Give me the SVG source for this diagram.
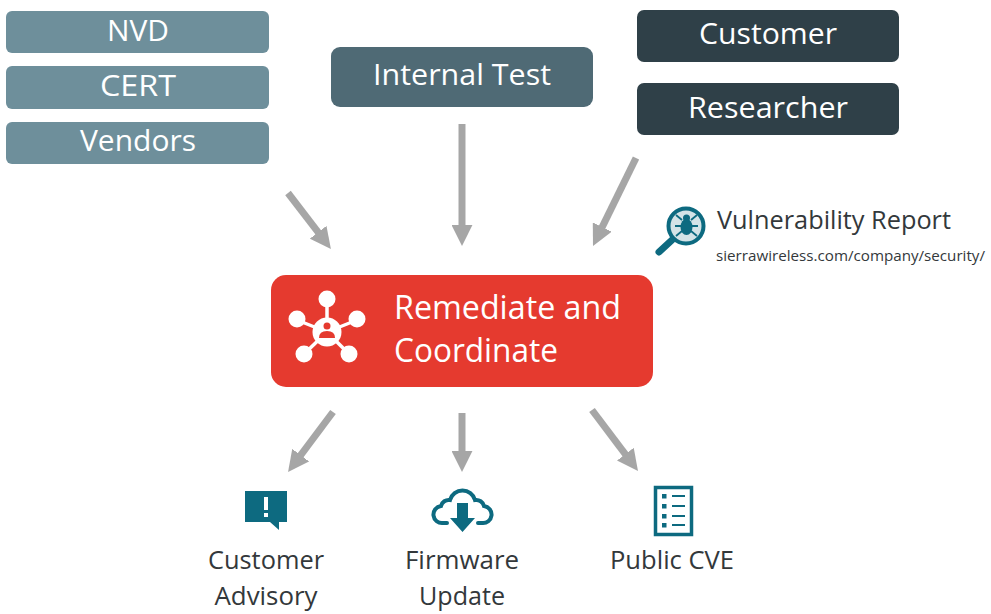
<svg xmlns="http://www.w3.org/2000/svg" width="991" height="614" viewBox="0 0 991 614">
<defs>
<marker id="ah" viewBox="0 0 10 10" refX="1" refY="5" markerWidth="3" markerHeight="3" orient="auto" markerUnits="strokeWidth"><path d="M0 0L10 5L0 10Z" fill="#a6a6a6"/></marker>
</defs>
<style>
text{font-family:"Open Sans","Noto Sans","Liberation Sans",sans-serif}
.w{fill:#fff;font-size:30px;text-anchor:middle}
.k{fill:#33383b;font-size:26px;text-anchor:middle}
.c{stroke:#a6a6a6;stroke-width:7;fill:none;marker-end:url(#ah)}
.t{fill:#0d6a80}
</style>
<rect width="991" height="614" fill="#fff"/>
<g id="connectors">
<line class="c" x1="288" y1="193" x2="319.400" y2="233.900"/>
<line class="c" x1="462" y1="124" x2="462" y2="227"/>
<line class="c" x1="636" y1="158" x2="601.300" y2="228.900"/>
<line class="c" x1="333" y1="412" x2="299.400" y2="456.800"/>
<line class="c" x1="462" y1="413" x2="462" y2="453"/>
<line class="c" x1="592" y1="410" x2="626.600" y2="455.800"/>
</g>
<g id="nvd"><rect x="6" y="11" width="263" height="42" rx="6" fill="#6e8f9b"/><text class="w" x="138" y="41" textLength="62" lengthAdjust="spacingAndGlyphs">NVD</text></g>
<g id="cert"><rect x="6" y="66" width="263" height="43" rx="6" fill="#6e8f9b"/><text class="w" x="138" y="96" textLength="76" lengthAdjust="spacingAndGlyphs">CERT</text></g>
<g id="vendors"><rect x="6" y="122" width="263" height="42" rx="6" fill="#6e8f9b"/><text class="w" x="138" y="151" textLength="116" lengthAdjust="spacingAndGlyphs">Vendors</text></g>
<g id="internal-test"><rect x="331" y="47" width="262" height="60" rx="9" fill="#4f6a75"/><text class="w" x="462" y="85" textLength="178" lengthAdjust="spacingAndGlyphs">Internal Test</text></g>
<g id="customer"><rect x="637" y="10" width="262" height="52" rx="7" fill="#2f4048"/><text class="w" x="768" y="44" textLength="138" lengthAdjust="spacingAndGlyphs">Customer</text></g>
<g id="researcher"><rect x="637" y="83" width="262" height="52" rx="7" fill="#2f4048"/><text class="w" x="768" y="118" textLength="160" lengthAdjust="spacingAndGlyphs">Researcher</text></g>
<g id="vulnerability-report">
<circle cx="686" cy="226" r="17.500" fill="#d3e3e7" stroke="#0d6a80" stroke-width="4"/>
<line x1="672" y1="240" x2="659" y2="252" stroke="#0d6a80" stroke-width="7" stroke-linecap="round"/>
<ellipse cx="686.500" cy="227" rx="6" ry="8" fill="#0d6a80"/>
<circle cx="686.500" cy="218" r="3.500" fill="#0d6a80"/>
<path d="M676 215l6 5M697 215l-6 5M675 226h23M676 236l6-5M697 236l-6-5" stroke="#0d6a80" stroke-width="1.800" fill="none"/>
<text x="717" y="229" fill="#33383b" font-size="26" textLength="234" lengthAdjust="spacingAndGlyphs">Vulnerability Report</text>
<text x="716" y="261" fill="#33383b" font-size="15" textLength="269" lengthAdjust="spacingAndGlyphs">sierrawireless.com/company/security/</text>
</g>
<g id="remediate">
<rect x="271" y="275" width="382" height="112" rx="15" fill="#e53a2f"/>
<g stroke="#fff" stroke-width="3.500"><line x1="327" y1="332" x2="327" y2="300"/><line x1="327" y1="332" x2="297" y2="320"/><line x1="327" y1="332" x2="357" y2="320"/><line x1="327" y1="332" x2="304" y2="354"/><line x1="327" y1="332" x2="349" y2="354"/></g>
<g fill="#fff"><circle cx="327" cy="299" r="8.500"/><circle cx="297" cy="319" r="8.500"/><circle cx="357" cy="319" r="8.500"/><circle cx="304" cy="354" r="8.500"/><circle cx="349" cy="354" r="8.500"/><circle cx="327" cy="332" r="14.500"/></g>
<circle cx="327" cy="326" r="3.500" fill="#e53a2f"/><path d="M319 338q0-7 8-7t8 7Z" fill="#e53a2f"/>
<text x="394" y="319" fill="#fff" font-size="33" textLength="227" lengthAdjust="spacingAndGlyphs">Remediate and</text>
<text x="394" y="362" fill="#fff" font-size="33" textLength="164" lengthAdjust="spacingAndGlyphs">Coordinate</text>
</g>
<g id="customer-advisory">
<path class="t" d="M245 491h42v31h-8v8l-9-8h-25Z"/>
<rect x="264" y="497" width="4" height="13" fill="#fff"/><rect x="264" y="513" width="4" height="4" fill="#fff"/>
<text class="k" x="266" y="569" textLength="116" lengthAdjust="spacingAndGlyphs">Customer</text>
<text class="k" x="266" y="605" textLength="103" lengthAdjust="spacingAndGlyphs">Advisory</text>
</g>
<g id="firmware-update">
<path d="M447 523H443A8.500 8.500 0 0 1 441 506A8 8 0 0 1 450 500A13 13 0 0 1 475 500A8 8 0 0 1 484 506A8.500 8.500 0 0 1 482 523H478" fill="none" stroke="#0d6a80" stroke-width="4" stroke-linecap="round"/>
<path class="t" d="M457 503h11v15h7l-12.500 14-12.500-14h7Z"/>
<text class="k" x="462" y="569" textLength="114" lengthAdjust="spacingAndGlyphs">Firmware</text>
<text class="k" x="462" y="605" textLength="86" lengthAdjust="spacingAndGlyphs">Update</text>
</g>
<g id="public-cve">
<rect x="655.500" y="487.500" width="36" height="47" fill="none" stroke="#0d6a80" stroke-width="3.500"/>
<path d="M672 496h13M672 506h13M672 516h13M672 525h13" stroke="#0d6a80" stroke-width="2"/>
<path class="t" d="M662 494h4.500v4.500h-4.500ZM662 504h4.500v4.500h-4.500ZM662 514h4.500v4.500h-4.500ZM662 523h4.500v4.500h-4.500Z"/>
<text class="k" x="672" y="569" textLength="124" lengthAdjust="spacingAndGlyphs">Public CVE</text>
</g>
</svg>
